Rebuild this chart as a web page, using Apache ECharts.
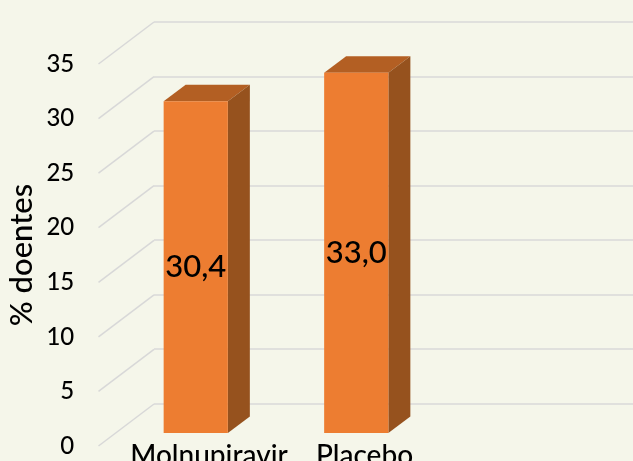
<!DOCTYPE html>
<html>
<head>
<meta charset="utf-8">
<style>
  html, body { margin: 0; padding: 0; background: #f5f6ea; overflow: hidden; }
  #chart { width: 633px; height: 461px; }
</style>
<script src="https://cdn.jsdelivr.net/npm/echarts@6/dist/echarts.min.js"></script>
</head>
<body>
<div id="chart"></div>
<script>
const categories = ["Molnupiravir", "Placebo"];
const values = [30.4, 33.0];
const ticks = [0, 5, 10, 15, 20, 25, 30, 35];
const yName = "% doentes";

const fontFamily = "Lato, 'Open Sans', sans-serif";
const gridColor = "#d8d8d8";
// fake 3d: how far the floor and the bars recede, in pixels
const wallDx = 55.5, wallDy = -42;
const depthDx = 22, depthDy = -16.5;

function renderBar(params, api) {
  const base = api.coord([api.value(0), 0]);
  const top = api.coord([api.value(0), api.value(1)]);
  const w = api.size([1, 0])[0] * 0.4;
  const l = base[0] - w / 2, r = base[0] + w / 2;
  const b = base[1], t = top[1];
  return {
    type: "group",
    children: [
      { type: "polygon", shape: { points: [[l, t], [r, t], [r + depthDx, t + depthDy], [l + depthDx, t + depthDy]] }, style: { fill: "#b35f23" } },
      { type: "polygon", shape: { points: [[r, t], [r + depthDx, t + depthDy], [r + depthDx, b + depthDy], [r, b]] }, style: { fill: "#96521e" } },
      { type: "rect", shape: { x: l, y: t, width: w, height: b - t }, style: { fill: "#ed7d31" } },
      {
        type: "text",
        x: base[0],
        y: (t + b) / 2,
        style: {
          text: api.value(1).toFixed(1).replace(".", ","),
          fill: "#000",
          font: "500 31px " + fontFamily,
          align: "center",
          verticalAlign: "middle",
        },
      },
    ],
  };
}

function renderDiagonal(params, api) {
  const p = api.coord([0, api.value(0)]);
  // front edge starts left of the first band, runs back to the wall
  const x = params.coordSys.x - 32.75;
  return {
    type: "line",
    shape: { x1: x, y1: p[1], x2: x + wallDx, y2: p[1] + wallDy },
    style: { stroke: gridColor, lineWidth: 1.5 },
  };
}

const chart = echarts.init(document.getElementById("chart"));
chart.setOption({
  backgroundColor: "#f5f6ea",
  animation: false,
  grid: [
    { left: 154, right: 0, top: 22, bottom: 57.5, outerBoundsMode: "none" }, // back wall
    { left: 115.5, width: 321, top: 51, bottom: 28, outerBoundsMode: "none" }, // bar plane
    { left: 131.25, width: 311, top: 64, bottom: 15, outerBoundsMode: "none" }, // front edge
  ],
  xAxis: [
    { gridIndex: 0, type: "value", min: 0, max: 1, show: false },
    { gridIndex: 1, type: "category", data: categories, show: false },
    {
      gridIndex: 2,
      type: "category",
      data: categories,
      axisLine: { show: false },
      axisTick: { show: false },
      axisLabel: { color: "#000", fontFamily, fontWeight: 500, fontSize: 28, margin: -4, interval: 0 },
    },
  ],
  yAxis: [
    {
      gridIndex: 0,
      type: "value",
      min: 0,
      max: 35,
      interval: 5,
      axisLabel: { show: false },
      axisLine: { show: false },
      axisTick: { show: false },
      splitLine: { show: true, lineStyle: { color: gridColor, width: 1.5 } },
    },
    { gridIndex: 1, type: "value", min: 0, max: 35, interval: 5, show: false },
    {
      gridIndex: 2,
      type: "value",
      min: 0,
      max: 35,
      interval: 5,
      name: yName,
      nameLocation: "middle",
      nameGap: 94,
      nameTextStyle: { color: "#000", fontFamily, fontWeight: 500, fontSize: 31 },
      axisLine: { show: false },
      axisTick: { show: false },
      splitLine: { show: false },
      axisLabel: { color: "#000", fontFamily, fontWeight: 500, fontSize: 24, margin: 57, showMinLabel: true, showMaxLabel: true },
    },
  ],
  series: [
    {
      type: "custom",
      xAxisIndex: 2,
      yAxisIndex: 2,
      renderItem: renderDiagonal,
      encode: { y: 0 },
      data: ticks.map((t) => [t]),
      silent: true,
    },
    {
      type: "custom",
      xAxisIndex: 1,
      yAxisIndex: 1,
      renderItem: renderBar,
      encode: { x: 0, y: 1 },
      data: values.map((v, i) => [i, v]),
    },
  ],
});
</script>
</body>
</html>
